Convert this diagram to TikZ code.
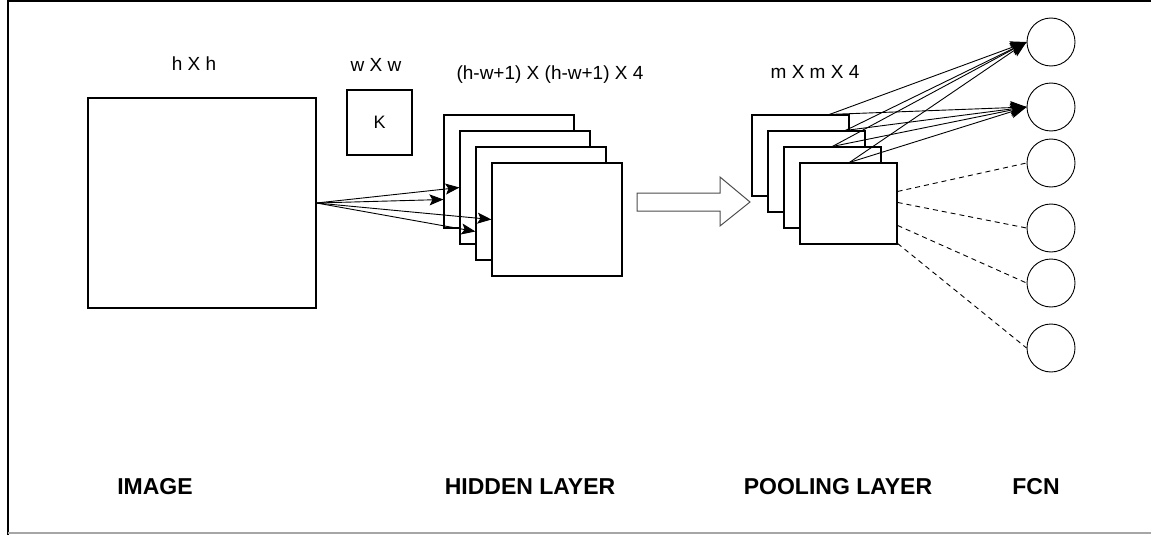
\documentclass[tikz,border=0pt]{standalone}
\usepackage{fontspec}
\setmainfont{Liberation Sans}
\usetikzlibrary{arrows.meta}

\begin{document}
\begin{tikzpicture}
  [x=1pt, y=-1pt, line width=1.1pt,
   map/.style={draw, fill=white, inner sep=0pt},
   unit/.style={draw, circle, minimum size=48pt, inner sep=0pt, line width=0.9pt},
   lbl/.style={font=\fontsize{19}{21}\selectfont},
   title/.style={font=\fontsize{23}{25}\selectfont\bfseries},
   link/.style={line width=0.9pt},
   arr/.style={link, -{Stealth[length=14pt,width=11pt,inset=3pt]}},
   bigarr/.style={link, -{Stealth[length=16pt,width=13pt,inset=3pt]}}]
  \useasboundingbox (0,0) rectangle (1151,535);
  \draw[line width=2pt] (8,535) -- (8,1) -- (1151,1);
  \draw[gray!70, line width=1.5pt] (8,533) -- (1151,533);

  % input and kernel
  \node[map, minimum width=228pt, minimum height=210pt] (img) at (202,203) {};
  \node[map, minimum width=65pt, minimum height=65pt, font=\fontsize{18}{20}\selectfont] (ker) at (379.5,122.5) {K};

  % hidden layer
  \node[map, minimum width=130pt, minimum height=113pt] (h1) at (509,171.5) {};
  \node[map, minimum width=130pt, minimum height=113pt] (h2) at (525,187.5) {};
  \node[map, minimum width=130pt, minimum height=113pt] (h3) at (541,203.5) {};
  \node[map, minimum width=130pt, minimum height=113pt] (h4) at (557,219.5) {};

  \foreach \to/\dy in {h1/-28pt,h2/0pt,h3/-28pt,h4/0pt}
  \draw[arr] (img.east) -- ([yshift=\dy]\to.west);

  % pooling step
  \draw[black!70, line width=1pt] (637,193) -- (720,193) -- (720,177) -- (750,202)
    -- (720,226) -- (720,211) -- (637,211) -- cycle;

  % pooling layer
  \node[map, minimum width=97pt, minimum height=81pt] (p1) at (800.5,155.5) {};
  \node[map, minimum width=97pt, minimum height=81pt] (p2) at (816.5,171.5) {};
  \node[map, minimum width=97pt, minimum height=81pt] (p3) at (832.5,187.5) {};
  \node[map, minimum width=97pt, minimum height=81pt] (p4) at (848.5,203.5) {};

  % fully connected units
  \node[unit] (c1) at (1051,42) {};
  \node[unit] (c2) at (1051,107) {};
  \node[unit] (c3) at (1051,163) {};
  \node[unit] (c4) at (1051,228) {};
  \node[unit] (c5) at (1051,283) {};
  \node[unit] (c6) at (1051,348) {};

  \foreach \from/\dx in {p1/78pt,p2/78pt,p3/49pt,p4/50pt}
  \foreach \to in {c1,c2}
  \draw[bigarr] ([xshift=\dx]\from.north west) -- (\to.west);

  \foreach \to/\dy in {c3/-29pt,c4/-40pt,c5/-63pt,c6/-81pt}
  \draw[link, dash pattern=on 5pt off 4pt] ([yshift=\dy]p4.north east) -- (\to.west);

  % sizes
  \node[lbl] (simg) at (194,64) {h X h};
  \node[lbl] (sker) at (376,65) {w X w};
  \node[lbl] (shid) at (550,75) {(h-w+1) X (h-w+1) X 4};
  \node[lbl] (spool) at (815,72) {m X m X 4};

  % layer names
  \node[title] (timg) at (155,487) {IMAGE};
  \node[title] (thid) at (530,487) {HIDDEN LAYER};
  \node[title] (tpool) at (838,487) {POOLING LAYER};
  \node[title] (tfcn) at (1036,487) {FCN};
\end{tikzpicture}
\end{document}
